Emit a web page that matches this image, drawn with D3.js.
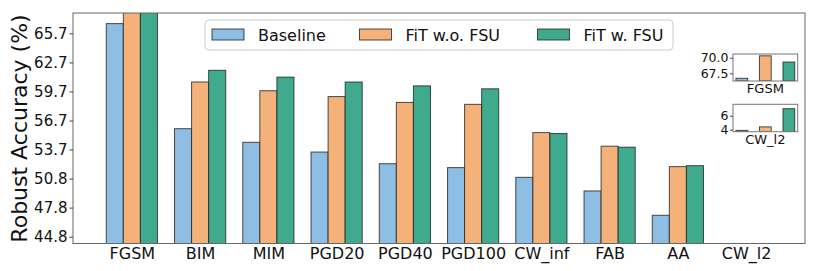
<!DOCTYPE html>
<html>
<head>
<meta charset="UTF-8">
<script src="https://cdn.jsdelivr.net/npm/d3@7"></script>
<style>
  * { margin: 0; padding: 0; }
  html, body { width: 814px; height: 271px; background: #fff; overflow: hidden; }
  svg { display: block; font-family: "DejaVu Sans", sans-serif; }
</style>
</head>
<body>
<svg id="chart" width="814" height="271"></svg>
<script>
// --- data ---
var categories = ["FGSM", "BIM", "MIM", "PGD20", "PGD40", "PGD100", "CW_inf", "FAB", "AA", "CW_l2"];
var seriesNames = ["Baseline", "FiT w.o. FSU", "FiT w. FSU"];
var baseline = [66.7, 55.9, 54.5, 53.5, 52.3, 51.9, 50.9, 49.5, 47.0, 3.9];
var fitNoFsu = [70.3, 60.7, 59.8, 59.2, 58.6, 58.4, 55.5, 54.1, 52.0, 4.4];
var fitFsu   = [69.3, 61.9, 61.2, 60.7, 60.3, 60.0, 55.4, 54.0, 52.1, 7.0];
var yTickValues = [44.8, 47.79, 50.77, 53.76, 56.74, 59.73, 62.71, 65.7];
var yTickLabels = ["44.8", "47.8", "50.8", "53.7", "56.7", "59.7", "62.7", "65.7"];
var insetCats = ["FGSM", "CW_l2"];
var insetTicks = { "FGSM": [67.5, 70.0], "CW_l2": [4, 6] };
var insetTickLabels = { "FGSM": ["67.5", "70.0"], "CW_l2": ["4", "6"] };
var insetDomains = { "FGSM": [66.27, 70.59], "CW_l2": [3.71, 7.63] };

var colors = ["#8ebee3", "#f4b27a", "#3faa8e"];
var series = [baseline, fitNoFsu, fitFsu];

var svg = d3.select("#chart");
var L = 73, R = 805, T = 13, B = 243.5;

var x = d3.scaleLinear().domain([-0.8625, 9.8625]).range([L, R]);
var y = d3.scaleLinear().domain([44.1, 67.79]).range([B, T]);
var bw = 0.25;

svg.append("clipPath").attr("id", "plotclip")
  .append("rect").attr("x", L).attr("y", T).attr("width", R - L).attr("height", B - T);

var barsG = svg.append("g").attr("clip-path", "url(#plotclip)");
series.forEach(function(vals, si) {
  barsG.selectAll(".b" + si)
    .data(vals)
    .enter().append("rect")
    .attr("x", function(d, i) { return x(i + (si - 1) * bw - bw / 2); })
    .attr("width", x(bw) - x(0))
    .attr("y", function(d) { return y(d); })
    .attr("height", function(d) { return Math.max(0, y(y.domain()[0]) - y(d)); })
    .attr("fill", colors[si])
    .attr("stroke", "#222")
    .attr("stroke-opacity", 0.8)
    .attr("stroke-width", 1);
});

// frame
svg.append("rect").attr("x", L).attr("y", T).attr("width", R - L).attr("height", B - T)
  .attr("fill", "none").attr("stroke", "#666").attr("stroke-width", 1);

// y axis
var yAxis = svg.append("g").attr("transform", "translate(" + L + ",0)")
  .call(d3.axisLeft(y).tickValues(yTickValues).tickSize(3.5).tickPadding(2)
    .tickFormat(function(d, i) { return yTickLabels[i]; }));
yAxis.select(".domain").remove();
yAxis.selectAll("line").attr("stroke", "#444");
yAxis.selectAll("text").attr("font-size", "15px").attr("fill", "#111")
  .attr("font-family", "DejaVu Sans, sans-serif");

// x axis
var xAxis = svg.append("g").attr("transform", "translate(0," + B + ")")
  .call(d3.axisBottom(x).tickValues(d3.range(categories.length)).tickSize(0).tickPadding(4)
    .tickFormat(function(d) { return categories[d]; }));
xAxis.select(".domain").remove();
xAxis.selectAll("text").attr("font-size", "16px").attr("fill", "#111")
  .attr("font-family", "DejaVu Sans, sans-serif");

// y label
svg.append("text")
  .attr("transform", "translate(27,128.5) rotate(-90)")
  .attr("text-anchor", "middle")
  .attr("font-size", "22px").attr("fill", "#111")
  .text("Robust Accuracy (%)");

// legend
var lg = svg.append("g");
lg.append("rect").attr("x", 205).attr("y", 20).attr("width", 468).attr("height", 30)
  .attr("rx", 4).attr("fill", "#fff").attr("fill-opacity", 0.9)
  .attr("stroke", "#ccc").attr("stroke-width", 1);
var legX = [212, 359.5, 537.5];
seriesNames.forEach(function(name, i) {
  lg.append("rect").attr("x", legX[i]).attr("y", 29).attr("width", 32).attr("height", 11)
    .attr("fill", colors[i]).attr("stroke", "#222").attr("stroke-opacity", 0.8).attr("stroke-width", 1);
  lg.append("text").attr("x", legX[i] + 46).attr("y", 40.5)
    .attr("font-size", "16px").attr("fill", "#111").text(name);
});

// insets
var insetBoxes = { "FGSM": [54, 81], "CW_l2": [104.3, 131.7] };
insetCats.forEach(function(cat) {
  var ci = categories.indexOf(cat);
  var box = insetBoxes[cat];
  var ix = d3.scaleLinear().domain([-0.375, 2.375]).range([733, 797.7]);
  var iy = d3.scaleLinear().domain(insetDomains[cat]).range([box[1], box[0]]);
  var g = svg.append("g");
  var clipId = "clip" + ci;
  g.append("clipPath").attr("id", clipId).append("rect")
    .attr("x", 733).attr("y", box[0]).attr("width", 64.7).attr("height", box[1] - box[0]);
  g.append("rect").attr("x", 733).attr("y", box[0]).attr("width", 64.7).attr("height", box[1] - box[0])
    .attr("fill", "#fff");
  g.append("g").attr("clip-path", "url(#" + clipId + ")")
    .selectAll("rect").data(series.map(function(s) { return s[ci]; }))
    .enter().append("rect")
    .attr("x", function(d, i) { return ix(i - 0.25); })
    .attr("width", ix(0.5) - ix(0))
    .attr("y", function(d) { return iy(d); })
    .attr("height", function(d) { return Math.max(0, box[1] - iy(d)); })
    .attr("fill", function(d, i) { return colors[i]; })
    .attr("stroke", "#222").attr("stroke-opacity", 0.8).attr("stroke-width", 1);
  g.append("rect").attr("x", 733).attr("y", box[0]).attr("width", 64.7).attr("height", box[1] - box[0])
    .attr("fill", "none").attr("stroke", "#777").attr("stroke-width", 1);
  var ia = g.append("g").attr("transform", "translate(733,0)")
    .call(d3.axisLeft(iy).tickValues(insetTicks[cat]).tickSize(3).tickPadding(1.5)
      .tickFormat(function(d, i) { return insetTickLabels[cat][i]; }));
  ia.select(".domain").remove();
  ia.selectAll("line").attr("stroke", "#444");
  ia.selectAll("text").attr("font-size", "12.5px").attr("fill", "#111")
    .attr("font-family", "DejaVu Sans, sans-serif");
  g.append("text").attr("x", ix(1)).attr("y", box[1] + 12)
    .attr("text-anchor", "middle").attr("font-size", "13px").attr("fill", "#111")
    .text(cat);
});
</script>
</body>
</html>
